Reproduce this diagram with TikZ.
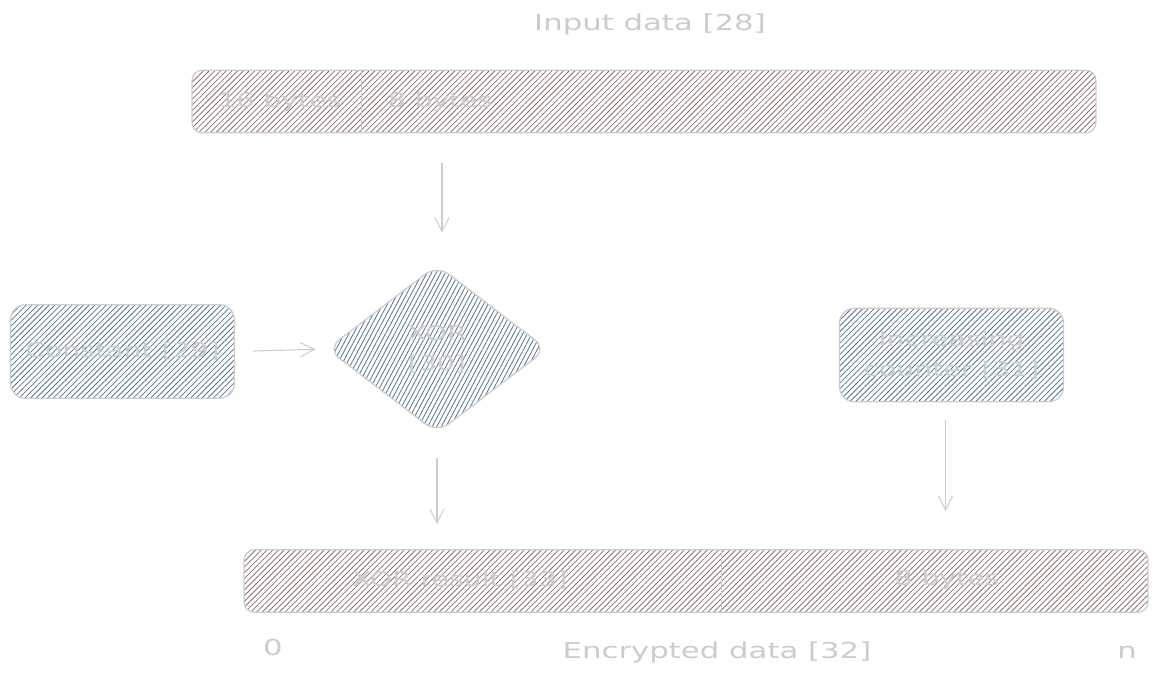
\documentclass[tikz,border=0pt]{standalone}
\usepackage{fontspec}
\setmainfont{DejaVu Sans}[FakeStretch=1.4]
\usepackage{xcolor}
\usetikzlibrary{arrows.meta,positioning,shapes.geometric,patterns.meta,calc}
\definecolor{inkgray}{HTML}{CCCCCC}
\definecolor{hatchred}{HTML}{8A6E6E}
\definecolor{hatchblue}{HTML}{52718F}

\begin{document}
\begin{tikzpicture}[x=0.02cm,y=-0.02cm,
  bar/.style={draw=inkgray,line width=0.7pt,rounded corners=0.2cm,
               minimum width=18.08cm,minimum height=1.25cm,
               pattern={Lines[angle=45,distance=2.3pt,line width=0.45pt]},
               pattern color=hatchred},
  bluebox/.style={draw=inkgray,line width=0.7pt,rounded corners=0.3cm,
               minimum width=4.48cm,minimum height=1.87cm,align=center,
               text=inkgray,font=\fontsize{11.5}{17}\selectfont,
               pattern={Lines[angle=45,distance=2.3pt,line width=0.45pt]},
               pattern color=hatchblue},
  xorbox/.style={diamond,draw=inkgray,line width=0.7pt,rounded corners=0.3cm,
               minimum width=4.4cm,minimum height=3.36cm,inner sep=0pt,
               align=center,text=inkgray,font=\fontsize{11.5}{17}\selectfont,
               pattern={Lines[angle=62,distance=2.3pt,line width=0.45pt]},
               pattern color=hatchblue},
  lbl/.style={text=inkgray,font=\fontsize{11.5}{14}\selectfont},
  head/.style={text=inkgray,font=\fontsize{12.5}{15}\selectfont},
  edge/.style={draw=inkgray,line width=0.7pt},
  arr/.style={-{Straight Barb[length=8pt,width=8pt]},draw=inkgray,line width=0.6pt}]
  \useasboundingbox (0,0) rectangle (1157,680);

  % input bar
  \node[bar] (inbar) at (644,101.5) {};
  \node[head] (inhead) at (650,24) {Input data [28]};
  \draw[edge] ($(inbar.north west)+(170,0)$) -- ($(inbar.south west)+(170,0)$);
  \node[lbl] (inkey) at (280,102) {16 bytes};
  \node[lbl] (innonce) at (440,102) {8 bytes};

  % middle row
  \node[xorbox] (xor) at (437,349) {XOR\\{[30]}};
  \node[bluebox] (const) at (122.5,351.5) {Constant [29]};
  \node[bluebox] (ctr) at (951.5,355) {Increasing\\counter [31]};

  % output bar
  \node[bar] (outbar) at (696,581) {};
  \draw[edge] ($(outbar.north west)+(478,0)$) -- ($(outbar.south west)+(478,0)$);
  \node[lbl] (outxor) at (460,580) {XOR result [33]};
  \node[lbl] (outctr) at (947,580) {8 bytes};
  \node[head] (outhead) at (717,652) {Encrypted data [32]};
  \node[head] (outzero) at (273,647) {0};
  \node[head] (outn) at (1127,652) {n};

  \draw[arr,shorten <=0.6cm,shorten >=0.64cm] ([xshift=0.1cm]inbar.south -| xor.north) -- ([xshift=0.1cm]xor.north);
  \draw[arr,shorten <=0.36cm,shorten >=0.22cm] (const.east) -- (xor.west);
  \draw[arr,shorten <=0.5cm,shorten >=0.5cm] (xor.south) -- (xor.south |- outbar.north);
  \draw[arr,shorten <=0.36cm,shorten >=0.76cm] ([xshift=-0.12cm]ctr.south) -- ([xshift=-0.12cm]ctr.south |- outbar.north);
\end{tikzpicture}
\end{document}
